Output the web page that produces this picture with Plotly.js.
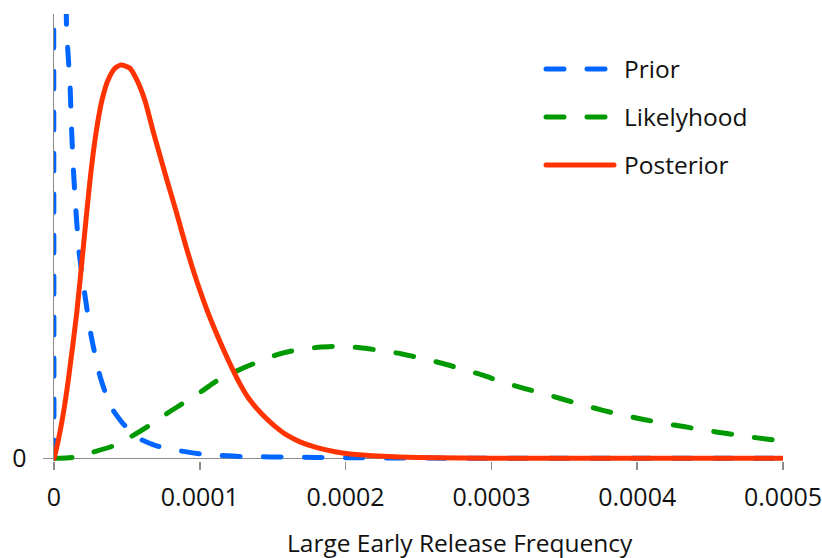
<!DOCTYPE html>
<html>
<head>
<meta charset="utf-8">
<script src="https://cdn.plot.ly/plotly-3.0.1.min.js"></script>
<style>html,body{margin:0;padding:0;background:#fff;}#chart{width:822px;height:558px;}</style>
</head>
<body>
<div id="chart"></div>
<script>
// ---- data (density values, normalised so the top of the plot = 1) ----
var seriesNames = ["Prior", "Likelyhood", "Posterior"];

var priorX = [0, 3e-7, 8.7e-6, 9.6e-6, 1.1e-5, 1.2e-5, 1.32e-5, 1.5e-5, 1.72e-5, 2.1e-5, 2.54e-5, 3.12e-5, 3.84e-5, 4.66e-5, 5.69e-5, 6.93e-5, 8.44e-5, 9.81e-5, 1.125e-4, 1.255e-4, 1.48e-4, 1.8e-4, 2.1e-4, 2.5e-4, 3e-4, 4e-4, 5e-4];
var priorY = [0, 3.0, 0.959, 0.912, 0.840, 0.745, 0.655, 0.559, 0.464, 0.372, 0.277, 0.189, 0.119, 0.081, 0.047, 0.029, 0.018, 0.011, 0.0068, 0.0045, 0.0032, 0.002, 0.0012, 0.0006, 0.0003, 0.0001, 0];

var likeX = [0, 1.23e-5, 2.67e-5, 3.98e-5, 5.35e-5, 6.45e-5, 7.75e-5, 8.85e-5, 1.022e-4, 1.125e-4, 1.262e-4, 1.392e-4, 1.536e-4, 1.667e-4, 1.811e-4, 1.941e-4, 2.099e-4, 2.236e-4, 2.387e-4, 2.51e-4, 2.661e-4, 2.798e-4, 2.942e-4, 3.073e-4, 3.217e-4, 3.354e-4, 3.491e-4, 3.628e-4, 3.765e-4, 3.903e-4, 4.053e-4, 4.177e-4, 4.328e-4, 4.465e-4, 4.616e-4, 4.753e-4, 4.897e-4, 5e-4];
var likeY = [0, 0.002, 0.014, 0.027, 0.050, 0.072, 0.101, 0.124, 0.153, 0.176, 0.198, 0.216, 0.234, 0.244, 0.250, 0.252, 0.249, 0.243, 0.235, 0.226, 0.214, 0.201, 0.187, 0.172, 0.158, 0.146, 0.133, 0.120, 0.108, 0.097, 0.087, 0.079, 0.071, 0.063, 0.056, 0.049, 0.043, 0.038];

var postX = [0, 1.4e-6, 3e-6, 6.4e-6, 9.8e-6, 1.56e-5, 2.01e-5, 2.47e-5, 2.88e-5, 3.29e-5, 3.7e-5, 4.18e-5, 4.6e-5, 5.21e-5, 5.69e-5, 6.24e-5, 6.79e-5, 7.73e-5, 8.42e-5, 9.05e-5, 9.79e-5, 1.063e-4, 1.166e-4, 1.221e-4, 1.276e-4, 1.331e-4, 1.427e-4, 1.516e-4, 1.598e-4, 1.687e-4, 1.804e-4, 1.927e-4, 2.03e-4, 2.257e-4, 2.49e-4, 2.8e-4, 3.2e-4, 4e-4, 5e-4];
var postY = [0, 0.018, 0.041, 0.101, 0.176, 0.327, 0.475, 0.626, 0.732, 0.806, 0.851, 0.878, 0.885, 0.878, 0.851, 0.805, 0.737, 0.628, 0.551, 0.477, 0.399, 0.322, 0.242, 0.203, 0.167, 0.137, 0.099, 0.072, 0.052, 0.037, 0.024, 0.015, 0.010, 0.0048, 0.0018, 0.0006, 0.0002, 0, 0];

var xTickVals = [0, 0.0001, 0.0002, 0.0003, 0.0004, 0.0005];
var xTickText = ["0", "0.0001", "0.0002", "0.0003", "0.0004", "0.0005"];
var yTickVals = [0];
var yTickText = ["0"];
var xTitle = "Large Early Release Frequency";

// ---- styles ----
var colors = ["#0066FF", "#009900", "#FF3300"];
var dashes = ["18px,23px", "18px,23px", "solid"];
var FONT = "'Open Sans', 'Noto Sans', sans-serif";
var TXT = "#111111";

var traces = [
  {x: priorX, y: priorY, name: seriesNames[0], mode: "lines", line: {color: colors[0], width: 5, dash: dashes[0], shape: "spline", smoothing: 0.5}},
  {x: likeX, y: likeY, name: seriesNames[1], mode: "lines", line: {color: colors[1], width: 5, dash: dashes[1], shape: "spline", smoothing: 0.6}},
  {x: postX, y: postY, name: seriesNames[2], mode: "lines", line: {color: colors[2], width: 5, dash: dashes[2], shape: "spline", smoothing: 0.6}}
];

var T = 14, ZERO = 458, H = (ZERO - T) * 1.006, B = 558 - T - H;
function py(p) { return (T + H - p) / H; }          // pixel row -> paper y
function px(p) { return (p - 54) / 729; }           // pixel col -> paper x

var legendRows = [69, 117, 165];
var shapes = [], annotations = [];
for (var i = 0; i < 3; i++) {
  shapes.push({type: "line", xref: "paper", yref: "paper", x0: px(546), x1: px(614), y0: py(legendRows[i]), y1: py(legendRows[i]),
    line: {color: colors[i], width: 5, dash: dashes[i]}});
  annotations.push({xref: "paper", yref: "paper", x: px(622), y: py(legendRows[i] - 1), xanchor: "left", yanchor: "middle",
    text: seriesNames[i], showarrow: false, font: {family: FONT, size: 24.5, color: TXT}});
}
annotations.push({xref: "paper", yref: "paper", x: px(460), y: py(542), xanchor: "center", yanchor: "middle",
  text: xTitle, showarrow: false, font: {family: FONT, size: 24.5, color: TXT}});

var layout = {
  width: 822, height: 558,
  margin: {l: 54, r: 39, t: T, b: B, pad: 0},
  paper_bgcolor: "#fff", plot_bgcolor: "#fff",
  showlegend: false,
  font: {family: FONT, size: 24, color: TXT},
  xaxis: {range: [0, 0.0005], tickmode: "array", tickvals: xTickVals, ticktext: xTickText,
    showgrid: false, zeroline: false, showline: false, ticks: "outside", ticklen: 8, tickwidth: 1.5, tickcolor: "#8c8c8c",
    ticklabelstandoff: 6, ticklabeloverflow: "allow", layer: "below traces", tickfont: {family: FONT, size: 25, color: TXT}},
  yaxis: {range: [-0.006, 1], tickmode: "array", tickvals: yTickVals, ticktext: yTickText,
    showgrid: false, zeroline: true, zerolinecolor: "#8c8c8c", zerolinewidth: 1.5,
    showline: true, linecolor: "#8c8c8c", linewidth: 1.5, ticks: "outside", ticklen: 10, tickwidth: 1.5, tickcolor: "#8c8c8c",
    ticklabelstandoff: 11, ticklabeloverflow: "allow", layer: "below traces", tickfont: {family: FONT, size: 25, color: TXT}},
  shapes: shapes,
  annotations: annotations
};

Plotly.newPlot("chart", traces, layout, {staticPlot: true}).then(function (gd) {
  var paths = gd.querySelectorAll("path.js-line, .shapelayer path");
  paths.forEach(function (p) { p.style.strokeLinecap = "round"; p.style.strokeLinejoin = "round"; });
});
</script>
</body>
</html>
